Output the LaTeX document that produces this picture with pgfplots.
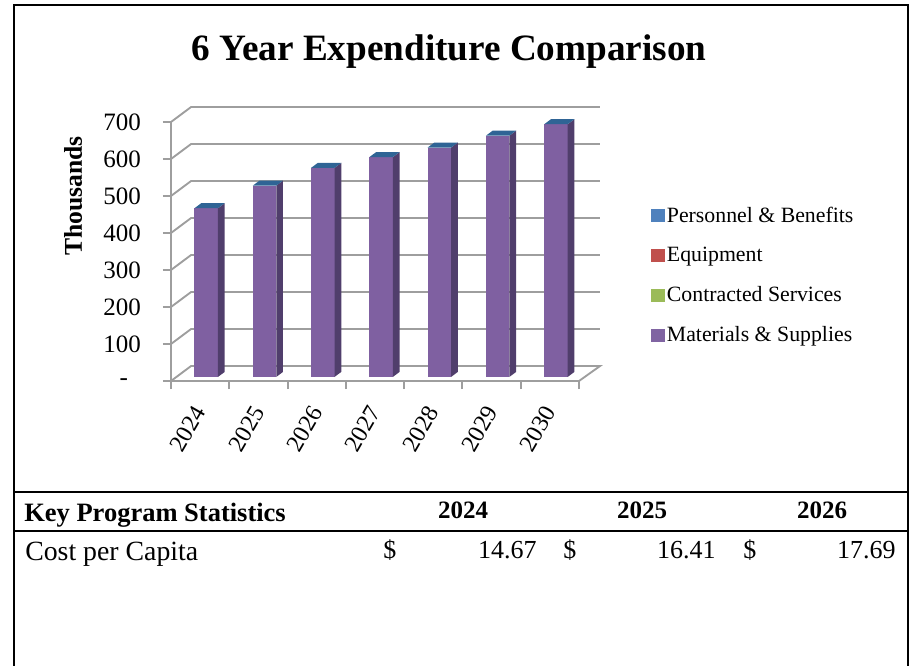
\documentclass[border=0pt]{standalone}
\usepackage{fontspec}
\setmainfont{Liberation Serif}
\usepackage{pgfplots}
\pgfplotsset{compat=1.18}
\definecolor{gridgray}{HTML}{9E9E9E}
\definecolor{barfront}{HTML}{7F60A1}
\definecolor{barside}{HTML}{503E6C}
\definecolor{bartop}{HTML}{2F6495}
\definecolor{legblue}{HTML}{4F81BD}
\definecolor{legred}{HTML}{C0504D}
\definecolor{leggreen}{HTML}{9BBB59}
\definecolor{legpurple}{HTML}{8064A2}
% sizes given in reference pixels (1px = 0.75pt)
\newcommand{\fs}[1]{\fontsize{\fpeval{#1*0.75}}{\fpeval{#1*0.9}}\selectfont}
\begin{document}
\begin{tikzpicture}
\begin{scope}[x=0.75pt,y=-0.75pt]
  \useasboundingbox (0,0) rectangle (911,665);
  % frame and table rules
  \draw[line width=2pt] (14,666) -- (14,5) -- (908,5) -- (908,666);
  \draw[line width=1.9pt] (14,492) -- (908,492);
  \draw[line width=1.9pt] (14,531) -- (908,531);
  \node[font=\fs{37.2}\bfseries,anchor=center] at (449,52) {6 Year Expenditure Comparison};
  \node[font=\fs{26.5}\bfseries,anchor=base west,inner sep=0pt] at (24,521) {Key Program Statistics};
  \node[font=\fs{25}\bfseries,anchor=base,inner sep=0pt] at (463,518) {2024};
  \node[font=\fs{25}\bfseries,anchor=base,inner sep=0pt] at (642,518) {2025};
  \node[font=\fs{25}\bfseries,anchor=base,inner sep=0pt] at (822,518) {2026};
  \node[font=\fs{27.8},anchor=base west,inner sep=0pt] at (25,560) {Cost per Capita};
  \node[font=\fs{26},anchor=base west,inner sep=0pt] at (383,558) {\$};
  \node[font=\fs{26},anchor=base east,inner sep=0pt] at (537,558) {14.67};
  \node[font=\fs{26},anchor=base west,inner sep=0pt] at (563,558) {\$};
  \node[font=\fs{26},anchor=base east,inner sep=0pt] at (716,558) {16.41};
  \node[font=\fs{26},anchor=base west,inner sep=0pt] at (743,558) {\$};
  \node[font=\fs{26},anchor=base east,inner sep=0pt] at (896,558) {17.69};
\end{scope}
\begin{axis}[
    at={(128.25pt,-285.75pt)}, anchor=south west,
    scale only axis, width=306pt, height=194.25pt,
    xmin=0, xmax=7, ymin=0, ymax=700,
    clip=false,
    axis x line*=bottom, axis y line*=left,
    axis line style={gridgray, line width=1.4pt, -},
    tick style={gridgray, line width=1.4pt},
    tick align=outside, major tick length=6pt,
    xtick={0,1,2,3,4,5,6,7}, xticklabels={},
    extra x ticks={0.5,1.5,2.5,3.5,4.5,5.5,6.5},
    extra x tick labels={2024,2025,2026,2027,2028,2029,2030},
    extra x tick style={major tick length=0pt,
        xticklabel style={rotate=60, anchor=east, font=\fs{24}, xshift=-14pt, yshift=-10pt}},
    ytick={0,100,200,300,400,500,600,700},
    yticklabels={\raisebox{-6pt}{-}\hspace*{9.75pt},100,200,300,400,500,600,700},
    yticklabel style={font=\fs{25}, xshift=-13pt},
    ylabel={Thousands},
    ylabel style={font=\fs{25.6}\bfseries, at={(axis description cs:-0.24,0.715)}, anchor=center},
    legend style={at={(axis description cs:1.176,0.409)}, anchor=west, draw=none, fill=none,
        font=\fs{21.8}, row sep=13.2pt, inner sep=0pt, cells={anchor=west}},
    legend cell align=left,
    legend image code/.code={\fill[#1] (0pt,-4.5pt) rectangle (9.5pt,4.5pt);},
]
  % back wall, floor: depth runs 20px right and 15px up (0.343 categories, 40.4 thousand)
  \foreach \z in {100,200,300,400,500,600,700}{
    \pgfmathsetmacro\zb{\z+40.4}
    \edef\temp{\noexpand\addplot[gridgray,line width=1.4pt,forget plot] coordinates {(0,\z)(0.343,\zb)(7.36,\zb)};}
    \temp
  }
  \addplot[gridgray,line width=1.4pt,forget plot] coordinates {(0,0)(0.343,40.4)(7.36,40.4)(7,0)};
  % bars: front face at a third of the depth, back face at two thirds
  \foreach \i/\v in {0/455,1/516,2/564,3/593,4/619,5/651,6/682}{
    \pgfmathsetmacro\xa{\i+0.403}
    \pgfmathsetmacro\xb{\i+0.806}
    \pgfmathsetmacro\xc{\i+0.921}
    \pgfmathsetmacro\xd{\i+0.518}
    \pgfmathsetmacro\ya{11}
    \pgfmathsetmacro\yb{24.5}
    \pgfmathsetmacro\ta{\v+12}
    \pgfmathsetmacro\tb{\v+25.5}
    \edef\temp{%
      \noexpand\addplot[fill=barfront,draw=none,forget plot] coordinates {(\xa,\ya)(\xb,\ya)(\xb,\ta)(\xa,\ta)} --cycle;
      \noexpand\addplot[fill=barside,draw=none,forget plot] coordinates {(\xb,\ya)(\xc,\yb)(\xc,\tb)(\xb,\ta)} --cycle;
      \noexpand\addplot[fill=bartop,draw=none,forget plot] coordinates {(\xa,\ta)(\xb,\ta)(\xc,\tb)(\xd,\tb)} --cycle;
    }
    \temp
  }
  \addlegendimage{legblue}
  \addlegendentry{Personnel \& Benefits}
  \addlegendimage{legred}
  \addlegendentry{Equipment}
  \addlegendimage{leggreen}
  \addlegendentry{Contracted Services}
  \addlegendimage{legpurple}
  \addlegendentry{Materials \& Supplies}
\end{axis}
\end{tikzpicture}
\end{document}
